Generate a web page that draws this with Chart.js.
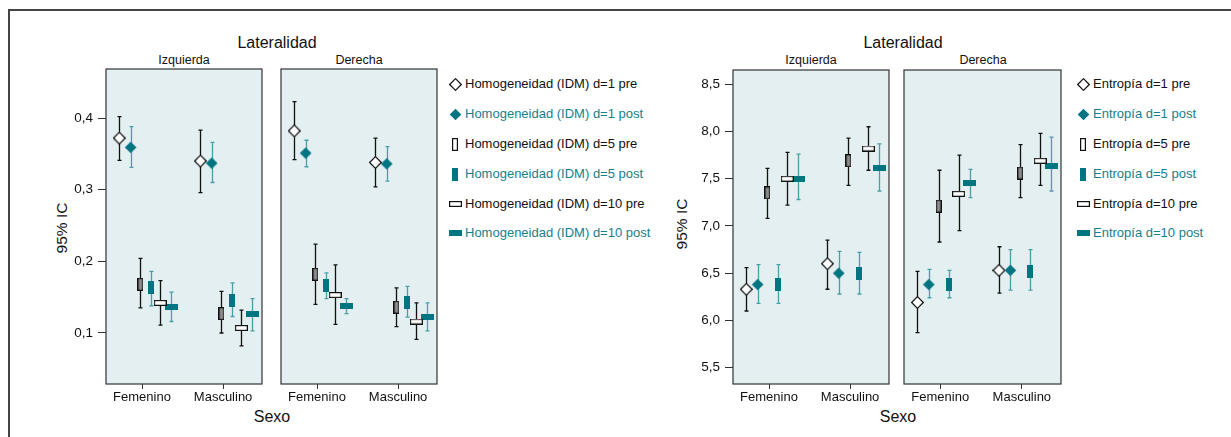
<!DOCTYPE html>
<html>
<head>
<meta charset="utf-8">
<title>Lateralidad - 95% IC</title>
<script src="https://cdn.jsdelivr.net/npm/chart.js"></script>
<style>
    body { margin: 0; width: 1231px; height: 437px; position: relative; overflow: hidden; background: #fff;
           font-family: 'Liberation Sans', Arial, sans-serif; color: #111; }
    #frame { position: absolute; left: 8px; top: 9px; width: 1240px; height: 440px;
             border-left: 2px solid #444; border-top: 2px solid #444; }
    .t { position: absolute; white-space: nowrap; transform: translate(-50%, -50%); }
    .rot { transform: translate(-50%, -50%) rotate(-90deg); }
    .leg { position: absolute; font-size: 13px; white-space: nowrap; }
    .leg div { position: absolute; left: 0; height: 16px; line-height: 16px; }
    .leg canvas { position: absolute; }
    .post { color: #16808b; }
    canvas.panel { position: absolute; }
</style>
</head>
<body>
<div id="frame"></div>

<div class="t" style="left:277px;top:43px;font-size:16px">Lateralidad</div>
<div class="t" style="left:184px;top:60px;font-size:12.5px">Izquierda</div>
<div class="t" style="left:359px;top:60px;font-size:12.5px">Derecha</div>
<div class="t rot" style="left:62px;top:228px;font-size:15.5px">95% IC</div>
<div class="t" style="left:272px;top:417px;font-size:16px">Sexo</div>

<div class="t" style="left:903px;top:43px;font-size:16px">Lateralidad</div>
<div class="t" style="left:811px;top:60px;font-size:12.5px">Izquierda</div>
<div class="t" style="left:983px;top:60px;font-size:12.5px">Derecha</div>
<div class="t rot" style="left:682px;top:224px;font-size:15.5px">95% IC</div>
<div class="t" style="left:898px;top:417px;font-size:16px">Sexo</div>

<div class="leg" id="legHom" style="left:447px;top:0px"></div>
<div class="leg" id="legEnt" style="left:1075px;top:0px"></div>

<canvas class="panel" id="c1"></canvas>
<canvas class="panel" id="c2"></canvas>
<canvas class="panel" id="c3"></canvas>
<canvas class="panel" id="c4"></canvas>

<script>
    // --- datos ---
    const sexo = ['Femenino', 'Masculino'];
    const serHom = ['Homogeneidad (IDM) d=1 pre', 'Homogeneidad (IDM) d=1 post', 'Homogeneidad (IDM) d=5 pre',
                    'Homogeneidad (IDM) d=5 post', 'Homogeneidad (IDM) d=10 pre', 'Homogeneidad (IDM) d=10 post'];
    const serEnt = ['Entropía d=1 pre', 'Entropía d=1 post', 'Entropía d=5 pre',
                    'Entropía d=5 post', 'Entropía d=10 pre', 'Entropía d=10 post'];
    const ticksHom = [0.1, 0.2, 0.3, 0.4];
    const ticksEnt = [5.5, 6.0, 6.5, 7.0, 7.5, 8.0, 8.5];

    // [Femenino, Masculino] por serie
    const homIzqMean = [[0.372, 0.340], [0.359, 0.337], [0.168, 0.127], [0.163, 0.145], [0.142, 0.107], [0.136, 0.126]];
    const homIzqLow  = [[0.341, 0.296], [0.331, 0.310], [0.135, 0.100], [0.138, 0.123], [0.111, 0.082], [0.116, 0.103]];
    const homIzqHigh = [[0.402, 0.383], [0.388, 0.366], [0.204, 0.158], [0.186, 0.170], [0.173, 0.132], [0.157, 0.148]];

    const homDerMean = [[0.382, 0.338], [0.351, 0.336], [0.182, 0.136], [0.166, 0.143], [0.153, 0.116], [0.138, 0.122]];
    const homDerLow  = [[0.342, 0.304], [0.332, 0.312], [0.140, 0.109], [0.148, 0.122], [0.112, 0.091], [0.127, 0.103]];
    const homDerHigh = [[0.423, 0.372], [0.369, 0.360], [0.224, 0.163], [0.184, 0.165], [0.195, 0.142], [0.148, 0.142]];

    const entIzqMean = [[6.33, 6.60], [6.38, 6.50], [7.35, 7.69], [6.38, 6.50], [7.50, 7.82], [7.50, 7.61]];
    const entIzqLow  = [[6.10, 6.33], [6.18, 6.28], [7.08, 7.43], [6.18, 6.28], [7.22, 7.59], [7.28, 7.37]];
    const entIzqHigh = [[6.56, 6.85], [6.59, 6.73], [7.61, 7.93], [6.59, 6.72], [7.78, 8.05], [7.76, 7.87]];

    const entDerMean = [[6.19, 6.53], [6.38, 6.53], [7.21, 7.56], [6.38, 6.52], [7.34, 7.69], [7.45, 7.64]];
    const entDerLow  = [[5.87, 6.29], [6.24, 6.32], [6.83, 7.30], [6.24, 6.32], [6.95, 7.43], [7.30, 7.37]];
    const entDerHigh = [[6.52, 6.78], [6.54, 6.75], [7.59, 7.86], [6.53, 6.75], [7.75, 7.98], [7.60, 7.94]];

    // --- estilo ---
    const offsets = [-0.28, -0.14, -0.02, 0.105, 0.225, 0.36];
    const kinds = ['diamond', 'diamond', 'vrect', 'vrect', 'hrect', 'hrect'];
    const TEAL = '#007582';
    const TEAL_LINE = '#4a9fa8';
    const BG = '#e3eff0';

    function makeIcon(kind, post, hollow) {
        const c = document.createElement('canvas');
        const w = kind == 'vrect' ? 6 : 13;
        const h = kind == 'hrect' ? 6 : 13;
        c.width = w; c.height = h;
        const g = c.getContext('2d');
        g.lineWidth = 1.2;
        g.strokeStyle = '#111';
        g.fillStyle = post ? TEAL : (kind == 'vrect' && !hollow ? '#8c8c8c' : '#fff');
        if (kind == 'diamond') {
            g.beginPath();
            g.moveTo(6.5, 0.7); g.lineTo(12.3, 6.5); g.lineTo(6.5, 12.3); g.lineTo(0.7, 6.5); g.closePath();
            g.fill();
            if (!post) g.stroke();
        } else {
            g.fillRect(0, 0, w, h);
            if (!post) g.strokeRect(0.6, 0.6, w - 1.2, h - 1.2);
        }
        return c;
    }

    const errorBars = {
        id: 'errorBars',
        beforeDraw(chart) {
            const a = chart.chartArea, ctx = chart.ctx;
            ctx.save();
            ctx.fillStyle = BG;
            ctx.fillRect(a.left, a.top, a.right - a.left, a.bottom - a.top);
            ctx.restore();
        },
        beforeDatasetsDraw(chart) {
            const ctx = chart.ctx, x = chart.scales.x, y = chart.scales.y;
            ctx.save();
            ctx.lineWidth = 1.3;
            chart.data.datasets.forEach((ds, i) => {
                ctx.strokeStyle = i % 2 ? TEAL_LINE : '#111';
                ds.data.forEach(p => {
                    const px = Math.round(x.getPixelForValue(p.x)) + 0.5;
                    const y0 = y.getPixelForValue(p.lo), y1 = y.getPixelForValue(p.hi);
                    ctx.beginPath();
                    ctx.moveTo(px, y0); ctx.lineTo(px, y1);
                    ctx.moveTo(px - 2, y0); ctx.lineTo(px + 2, y0);
                    ctx.moveTo(px - 2, y1); ctx.lineTo(px + 2, y1);
                    ctx.stroke();
                });
            });
            ctx.restore();
        },
        afterDraw(chart) {
            const a = chart.chartArea, ctx = chart.ctx;
            ctx.save();
            ctx.strokeStyle = '#333';
            ctx.lineWidth = 1.2;
            ctx.strokeRect(a.left, a.top, a.right - a.left, a.bottom - a.top);
            ctx.restore();
        }
    };

    const Y_W = 45, X_H = 32;

    function makePanel(id, box, mean, low, high, yMin, yMax, yTicks, showY) {
        const cv = document.getElementById(id);
        const yW = showY ? Y_W : 0;
        cv.width = yW + box.w + 2;
        cv.height = box.h + 1 + X_H;
        cv.style.left = (box.l - yW - 1) + 'px';
        cv.style.top = (box.t - 1) + 'px';

        const datasets = mean.map((m, i) => ({
            data: sexo.map((s, j) => ({ x: j + offsets[i], y: m[j], lo: low[i][j], hi: high[i][j] })),
            pointStyle: makeIcon(kinds[i], i % 2 == 1),
            pointRadius: 6,
            showLine: false
        }));

        return new Chart(cv, {
            type: 'scatter',
            data: { datasets },
            options: {
                responsive: false,
                animation: false,
                layout: { autoPadding: false, padding: { left: 1, top: 1, right: 1, bottom: 0 } },
                plugins: { legend: { display: false }, tooltip: { enabled: false } },
                scales: {
                    x: {
                        type: 'linear', min: -0.444, max: 1.48,
                        afterBuildTicks: s => { s.ticks = [{ value: 0 }, { value: 1 }]; },
                        afterFit: s => { s.height = X_H; s.paddingLeft = 0; s.paddingRight = 0; },
                        ticks: { callback: (v, i) => sexo[i], color: '#111', padding: 1,
                                 font: { family: 'Liberation Sans', size: 13 }, maxRotation: 0 },
                        grid: { drawOnChartArea: false, tickLength: 5, color: '#333' },
                        border: { display: false }
                    },
                    y: {
                        display: showY,
                        min: yMin, max: yMax,
                        afterBuildTicks: s => { s.ticks = yTicks.map(v => ({ value: v })); },
                        afterFit: s => { s.width = yW; s.paddingTop = 0; s.paddingBottom = 0; },
                        ticks: { callback: v => v.toFixed(1).replace('.', ','), color: '#111', padding: 5,
                                 font: { family: 'Liberation Sans', size: 13.5 } },
                        grid: { drawOnChartArea: false, tickLength: 8, color: '#333' },
                        border: { display: false }
                    }
                }
            },
            plugins: [errorBars]
        });
    }

    makePanel('c1', { l: 106, t: 69, w: 156, h: 315 }, homIzqMean, homIzqLow, homIzqHigh, 0.0288, 0.4684, ticksHom, true);
    makePanel('c2', { l: 281, t: 69, w: 156, h: 315 }, homDerMean, homDerLow, homDerHigh, 0.0288, 0.4684, ticksHom, false);
    makePanel('c3', { l: 733, t: 70, w: 156, h: 314 }, entIzqMean, entIzqLow, entIzqHigh, 5.327, 8.651, ticksEnt, true);
    makePanel('c4', { l: 904, t: 70, w: 157, h: 314 }, entDerMean, entDerLow, entDerHigh, 5.327, 8.651, ticksEnt, false);

    // leyendas
    function makeLegend(id, names, iconX) {
        const el = document.getElementById(id);
        const rows = [84, 114, 144, 174, 204, 233];
        names.forEach((n, i) => {
            const ic = makeIcon(kinds[i], i % 2 == 1, true);
            ic.style.left = (iconX - ic.width / 2) + 'px';
            ic.style.top = (rows[i] - ic.height / 2) + 'px';
            el.appendChild(ic);
            const d = document.createElement('div');
            d.textContent = n;
            d.style.left = (iconX + 10) + 'px';
            d.style.top = (rows[i] - 8) + 'px';
            if (i % 2 == 1) d.className = 'post';
            el.appendChild(d);
        });
    }
    makeLegend('legHom', serHom, 8);
    makeLegend('legEnt', serEnt, 8);
</script>
</body>
</html>
